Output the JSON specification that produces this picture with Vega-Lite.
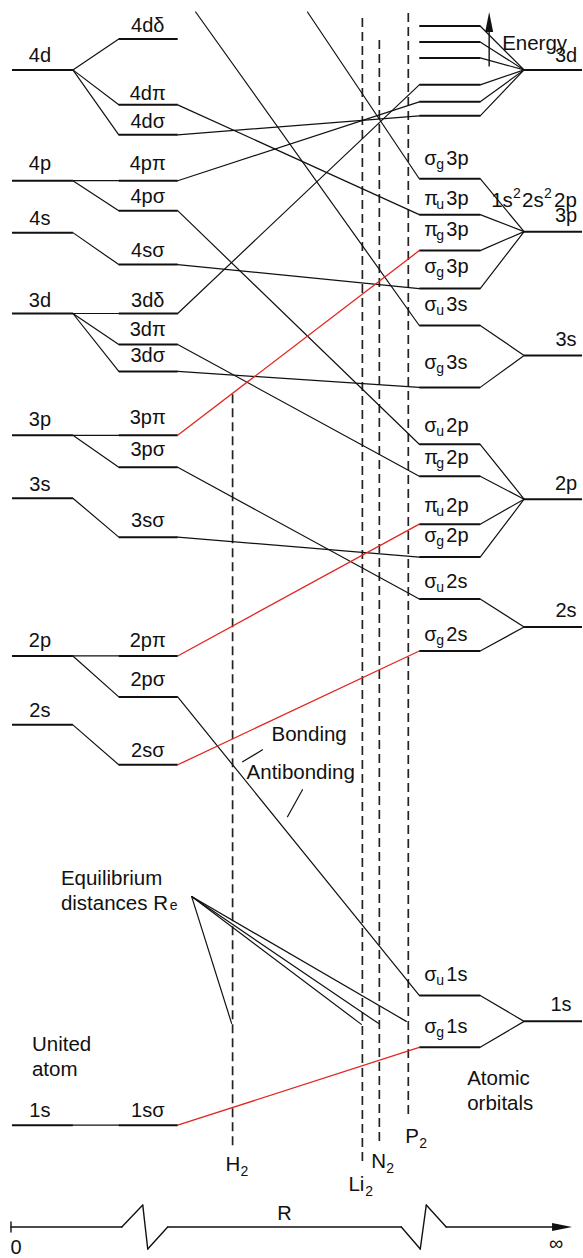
{
 "$schema": "https://vega.github.io/schema/vega-lite/v6.json",
 "width": 583, "height": 1258,
 "autosize": {"type": "fit", "contains": "padding"},
 "padding": 0,
 "background": "white",
 "config": {"view": {"stroke": null}, "text": {"font": "Liberation Sans", "fontSize": 20, "color": "#111"}},
 "datasets": {
  "segs": [
   {"x":12,"y":70,"x2":73,"y2":70,"k":"level"},
   {"x":12,"y":181,"x2":73,"y2":181,"k":"level"},
   {"x":12,"y":233,"x2":73,"y2":233,"k":"level"},
   {"x":12,"y":314,"x2":73,"y2":314,"k":"level"},
   {"x":12,"y":436,"x2":73,"y2":436,"k":"level"},
   {"x":12,"y":499,"x2":73,"y2":499,"k":"level"},
   {"x":12,"y":657,"x2":73,"y2":657,"k":"level"},
   {"x":12,"y":726,"x2":73,"y2":726,"k":"level"},
   {"x":12,"y":1127,"x2":73,"y2":1127,"k":"level"},
   {"x":119,"y":39,"x2":178,"y2":39,"k":"level"},
   {"x":119,"y":105,"x2":178,"y2":105,"k":"level"},
   {"x":119,"y":135,"x2":178,"y2":135,"k":"level"},
   {"x":119,"y":181,"x2":178,"y2":181,"k":"level"},
   {"x":119,"y":211,"x2":178,"y2":211,"k":"level"},
   {"x":119,"y":265,"x2":178,"y2":265,"k":"level"},
   {"x":119,"y":314,"x2":178,"y2":314,"k":"level"},
   {"x":119,"y":345,"x2":178,"y2":345,"k":"level"},
   {"x":119,"y":372,"x2":178,"y2":372,"k":"level"},
   {"x":119,"y":436,"x2":178,"y2":436,"k":"level"},
   {"x":119,"y":468,"x2":178,"y2":468,"k":"level"},
   {"x":119,"y":538,"x2":178,"y2":538,"k":"level"},
   {"x":119,"y":657,"x2":178,"y2":657,"k":"level"},
   {"x":119,"y":698,"x2":178,"y2":698,"k":"level"},
   {"x":119,"y":766,"x2":178,"y2":766,"k":"level"},
   {"x":119,"y":1127,"x2":178,"y2":1127,"k":"level"},
   {"x":420,"y":26,"x2":481,"y2":26,"k":"level"},
   {"x":420,"y":42,"x2":481,"y2":42,"k":"level"},
   {"x":420,"y":58,"x2":481,"y2":58,"k":"level"},
   {"x":420,"y":85,"x2":481,"y2":85,"k":"level"},
   {"x":420,"y":102,"x2":481,"y2":102,"k":"level"},
   {"x":420,"y":116,"x2":481,"y2":116,"k":"level"},
   {"x":420,"y":179,"x2":481,"y2":179,"k":"level"},
   {"x":420,"y":215,"x2":481,"y2":215,"k":"level"},
   {"x":420,"y":251,"x2":481,"y2":251,"k":"level"},
   {"x":420,"y":289,"x2":481,"y2":289,"k":"level"},
   {"x":420,"y":326,"x2":481,"y2":326,"k":"level"},
   {"x":420,"y":388,"x2":481,"y2":388,"k":"level"},
   {"x":420,"y":445,"x2":481,"y2":445,"k":"level"},
   {"x":420,"y":477,"x2":481,"y2":477,"k":"level"},
   {"x":420,"y":525,"x2":481,"y2":525,"k":"level"},
   {"x":420,"y":558,"x2":481,"y2":558,"k":"level"},
   {"x":420,"y":600,"x2":481,"y2":600,"k":"level"},
   {"x":420,"y":652,"x2":481,"y2":652,"k":"level"},
   {"x":420,"y":997,"x2":481,"y2":997,"k":"level"},
   {"x":420,"y":1049,"x2":481,"y2":1049,"k":"level"},
   {"x":525,"y":70,"x2":583,"y2":70,"k":"level"},
   {"x":525,"y":232,"x2":583,"y2":232,"k":"level"},
   {"x":525,"y":356,"x2":583,"y2":356,"k":"level"},
   {"x":525,"y":500,"x2":583,"y2":500,"k":"level"},
   {"x":525,"y":628,"x2":583,"y2":628,"k":"level"},
   {"x":525,"y":1023,"x2":583,"y2":1023,"k":"level"},
   {"x":73,"y":70,"x2":119,"y2":39,"k":"link"},
   {"x":73,"y":70,"x2":119,"y2":105,"k":"link"},
   {"x":73,"y":70,"x2":119,"y2":135,"k":"link"},
   {"x":73,"y":181,"x2":119,"y2":181,"k":"link"},
   {"x":73,"y":181,"x2":119,"y2":211,"k":"link"},
   {"x":73,"y":233,"x2":119,"y2":265,"k":"link"},
   {"x":73,"y":314,"x2":119,"y2":314,"k":"link"},
   {"x":73,"y":314,"x2":119,"y2":345,"k":"link"},
   {"x":73,"y":314,"x2":119,"y2":372,"k":"link"},
   {"x":73,"y":436,"x2":119,"y2":436,"k":"link"},
   {"x":73,"y":436,"x2":119,"y2":468,"k":"link"},
   {"x":73,"y":499,"x2":119,"y2":538,"k":"link"},
   {"x":73,"y":657,"x2":119,"y2":657,"k":"link"},
   {"x":73,"y":657,"x2":119,"y2":698,"k":"link"},
   {"x":73,"y":726,"x2":119,"y2":766,"k":"link"},
   {"x":73,"y":1127,"x2":119,"y2":1127,"k":"link"},
   {"x":178,"y":105,"x2":420,"y2":215,"k":"link"},
   {"x":178,"y":135,"x2":420,"y2":116,"k":"link"},
   {"x":178,"y":181,"x2":420,"y2":102,"k":"link"},
   {"x":178,"y":211,"x2":420,"y2":445,"k":"link"},
   {"x":178,"y":265,"x2":420,"y2":289,"k":"link"},
   {"x":178,"y":314,"x2":420,"y2":85,"k":"link"},
   {"x":178,"y":345,"x2":420,"y2":477,"k":"link"},
   {"x":178,"y":372,"x2":420,"y2":388,"k":"link"},
   {"x":178,"y":468,"x2":420,"y2":600,"k":"link"},
   {"x":178,"y":538,"x2":420,"y2":558,"k":"link"},
   {"x":178,"y":698,"x2":420,"y2":997,"k":"link"},
   {"x":196,"y":12,"x2":420,"y2":326,"k":"link"},
   {"x":308,"y":12,"x2":420,"y2":179,"k":"link"},
   {"x":178,"y":436,"x2":420,"y2":251,"k":"red"},
   {"x":178,"y":657,"x2":420,"y2":525,"k":"red"},
   {"x":178,"y":766,"x2":420,"y2":652,"k":"red"},
   {"x":178,"y":1127,"x2":420,"y2":1049,"k":"red"},
   {"x":481,"y":26,"x2":525,"y2":70,"k":"link"},
   {"x":481,"y":42,"x2":525,"y2":70,"k":"link"},
   {"x":481,"y":58,"x2":525,"y2":70,"k":"link"},
   {"x":481,"y":85,"x2":525,"y2":70,"k":"link"},
   {"x":481,"y":102,"x2":525,"y2":70,"k":"link"},
   {"x":481,"y":116,"x2":525,"y2":70,"k":"link"},
   {"x":481,"y":179,"x2":525,"y2":232,"k":"link"},
   {"x":481,"y":215,"x2":525,"y2":232,"k":"link"},
   {"x":481,"y":251,"x2":525,"y2":232,"k":"link"},
   {"x":481,"y":289,"x2":525,"y2":232,"k":"link"},
   {"x":481,"y":326,"x2":525,"y2":356,"k":"link"},
   {"x":481,"y":388,"x2":525,"y2":356,"k":"link"},
   {"x":481,"y":445,"x2":525,"y2":500,"k":"link"},
   {"x":481,"y":477,"x2":525,"y2":500,"k":"link"},
   {"x":481,"y":525,"x2":525,"y2":500,"k":"link"},
   {"x":481,"y":558,"x2":525,"y2":500,"k":"link"},
   {"x":481,"y":600,"x2":525,"y2":628,"k":"link"},
   {"x":481,"y":652,"x2":525,"y2":628,"k":"link"},
   {"x":481,"y":997,"x2":525,"y2":1023,"k":"link"},
   {"x":481,"y":1049,"x2":525,"y2":1023,"k":"link"},
   {"x":192,"y":898,"x2":232,"y2":1025,"k":"link"},
   {"x":192,"y":898,"x2":362,"y2":1026,"k":"link"},
   {"x":192,"y":898,"x2":379,"y2":1025,"k":"link"},
   {"x":192,"y":898,"x2":407,"y2":1023,"k":"link"},
   {"x":243,"y":763,"x2":263,"y2":751,"k":"link"},
   {"x":288,"y":818,"x2":303,"y2":791,"k":"link"},
   {"x":490,"y":66,"x2":490,"y2":28,"k":"axis"},
   {"x":11,"y":1229,"x2":122,"y2":1229,"k":"axis"},
   {"x":122,"y":1229,"x2":143,"y2":1207,"k":"axis"},
   {"x":143,"y":1207,"x2":148,"y2":1251,"k":"axis"},
   {"x":148,"y":1251,"x2":168,"y2":1229,"k":"axis"},
   {"x":168,"y":1229,"x2":402,"y2":1229,"k":"axis"},
   {"x":402,"y":1229,"x2":421,"y2":1251,"k":"axis"},
   {"x":421,"y":1251,"x2":427,"y2":1207,"k":"axis"},
   {"x":427,"y":1207,"x2":447,"y2":1229,"k":"axis"},
   {"x":447,"y":1229,"x2":558,"y2":1229,"k":"axis"},
   {"x":11,"y":1224,"x2":11,"y2":1234,"k":"axis"}
  ],
  "dashes": [
   {"x":233,"y":395,"y2":1148,"m":"H2"},
   {"x":363,"y":18,"y2":1163,"m":"Li2"},
   {"x":380,"y":40,"y2":1145,"m":"N2"},
   {"x":409,"y":13,"y2":1117,"m":"P2"}
  ],
  "textC": [
   {"x":40,"y":62,"t":"4d"},{"x":40,"y":170,"t":"4p"},{"x":40,"y":225,"t":"4s"},{"x":40,"y":307,"t":"3d"},
   {"x":40,"y":427,"t":"3p"},{"x":40,"y":492,"t":"3s"},{"x":40,"y":648,"t":"2p"},{"x":40,"y":718,"t":"2s"},{"x":40,"y":1119,"t":"1s"},
   {"x":148,"y":32,"t":"4dδ"},{"x":148,"y":100,"t":"4dπ"},{"x":148,"y":128,"t":"4dσ"},{"x":148,"y":170,"t":"4pπ"},
   {"x":148,"y":203,"t":"4pσ"},{"x":148,"y":257,"t":"4sσ"},{"x":148,"y":307,"t":"3dδ"},{"x":148,"y":337,"t":"3dπ"},
   {"x":148,"y":363,"t":"3dσ"},{"x":148,"y":425,"t":"3pπ"},{"x":148,"y":457,"t":"3pσ"},{"x":148,"y":528,"t":"3sσ"},
   {"x":148,"y":648,"t":"2pπ"},{"x":148,"y":687,"t":"2pσ"},{"x":148,"y":758,"t":"2sσ"},{"x":148,"y":1119,"t":"1sσ"},
   {"x":567,"y":62,"t":"3d"},{"x":567,"y":222,"t":"3p"},{"x":567,"y":347,"t":"3s"},{"x":567,"y":491,"t":"2p"},
   {"x":567,"y":618,"t":"2s"},{"x":562,"y":1013,"t":"1s"},
   {"x":285,"y":1222,"t":"R"},{"x":16,"y":1256,"t":"0"},{"x":557,"y":1252,"t":"∞"}
  ],
  "textL": [
   {"x":503,"y":50,"t":"Energy"},
   {"x":492,"y":207,"t":"1s"},{"x":523,"y":207,"t":"2s"},{"x":555,"y":207,"t":"2p"},
   {"x":272,"y":742,"t":"Bonding"},{"x":247,"y":780,"t":"Antibonding"},
   {"x":61,"y":886,"t":"Equilibrium"},{"x":61,"y":911,"t":"distances R"},
   {"x":32,"y":1053,"t":"United"},{"x":32,"y":1078,"t":"atom"},
   {"x":468,"y":1087,"t":"Atomic"},{"x":468,"y":1112,"t":"orbitals"},
   {"x":226,"y":1173,"t":"H"},{"x":349,"y":1193,"t":"Li"},{"x":372,"y":1170,"t":"N"},{"x":406,"y":1145,"t":"P"}
  ],
  "small": [
   {"x":170,"y":911,"t":"e"},
   {"x":514,"y":198,"t":"2"},{"x":545,"y":198,"t":"2"},
   {"x":241,"y":1178,"t":"2"},{"x":366,"y":1198,"t":"2"},{"x":387,"y":1175,"t":"2"},{"x":420,"y":1150,"t":"2"}
  ],
  "mol": [
   {"x":425,"y":165,"g":"σ","s":"g","r":"3p"},
   {"x":425,"y":205,"g":"π","s":"u","r":"3p"},
   {"x":425,"y":236,"g":"π","s":"g","r":"3p"},
   {"x":425,"y":273,"g":"σ","s":"g","r":"3p"},
   {"x":425,"y":311,"g":"σ","s":"u","r":"3s"},
   {"x":425,"y":370,"g":"σ","s":"g","r":"3s"},
   {"x":425,"y":433,"g":"σ","s":"u","r":"2p"},
   {"x":425,"y":465,"g":"π","s":"g","r":"2p"},
   {"x":425,"y":513,"g":"π","s":"u","r":"2p"},
   {"x":425,"y":543,"g":"σ","s":"g","r":"2p"},
   {"x":425,"y":589,"g":"σ","s":"u","r":"2s"},
   {"x":425,"y":642,"g":"σ","s":"g","r":"2s"},
   {"x":425,"y":983,"g":"σ","s":"u","r":"1s"},
   {"x":425,"y":1035,"g":"σ","s":"g","r":"1s"}
  ],
  "arrows": [
   {"x":490,"y":22,"d":"up"},{"x":563,"y":1229,"d":"right"}
  ]
 },
 "encoding": {
  "x": {"field":"x","type":"quantitative","scale":{"domain":[0,583],"nice":false,"zero":false},"axis":null},
  "y": {"field":"y","type":"quantitative","scale":{"domain":[0,1258],"nice":false,"zero":false,"reverse":true},"axis":null}
 },
 "layer": [
  {"data":{"name":"dashes"},"mark":{"type":"rule","color":"#222","strokeWidth":1.7,"strokeDash":[9,5]},
   "encoding":{"y2":{"field":"y2"}}},
  {"data":{"name":"segs"},"transform":[{"filter":"datum.k==='link'"}],"mark":{"type":"rule","color":"#111","strokeWidth":1.2,"strokeCap":"round"},
   "encoding":{"x2":{"field":"x2"},"y2":{"field":"y2"}}},
  {"data":{"name":"segs"},"transform":[{"filter":"datum.k==='axis'"}],"mark":{"type":"rule","color":"#111","strokeWidth":1.4,"strokeCap":"round"},
   "encoding":{"x2":{"field":"x2"},"y2":{"field":"y2"}}},
  {"data":{"name":"segs"},"transform":[{"filter":"datum.k==='red'"}],"mark":{"type":"rule","color":"#e3261f","strokeWidth":1.3},
   "encoding":{"x2":{"field":"x2"},"y2":{"field":"y2"}}},
  {"data":{"name":"segs"},"transform":[{"filter":"datum.k==='level'"}],"mark":{"type":"rule","color":"#111","strokeWidth":2},
   "encoding":{"x2":{"field":"x2"},"y2":{"field":"y2"}}},
  {"data":{"name":"arrows"},"transform":[{"filter":"datum.d==='up'"}],"mark":{"type":"point","filled":true,"color":"#111","opacity":1,"size":400,"shape":"M0,-1L0.4,1L-0.4,1Z"}},
  {"data":{"name":"arrows"},"transform":[{"filter":"datum.d==='right'"}],"mark":{"type":"point","filled":true,"color":"#111","opacity":1,"size":400,"shape":"M1,0L-1,-0.4L-1,0.4Z"}},
  {"data":{"name":"textC"},"mark":{"type":"text","align":"center","baseline":"alphabetic"},"encoding":{"text":{"field":"t"}}},
  {"data":{"name":"textL"},"mark":{"type":"text","align":"left","baseline":"alphabetic","fontSize":20.5},"encoding":{"text":{"field":"t"}}},
  {"data":{"name":"small"},"mark":{"type":"text","align":"left","baseline":"alphabetic","fontSize":14},"encoding":{"text":{"field":"t"}}},
  {"data":{"name":"mol"},"mark":{"type":"text","align":"left","baseline":"alphabetic"},"encoding":{"text":{"field":"g"}}},
  {"data":{"name":"mol"},"mark":{"type":"text","align":"left","baseline":"alphabetic","fontSize":14,"dx":12,"dy":4},"encoding":{"text":{"field":"s"}}},
  {"data":{"name":"mol"},"mark":{"type":"text","align":"left","baseline":"alphabetic","dx":22},"encoding":{"text":{"field":"r"}}}
 ]
}
